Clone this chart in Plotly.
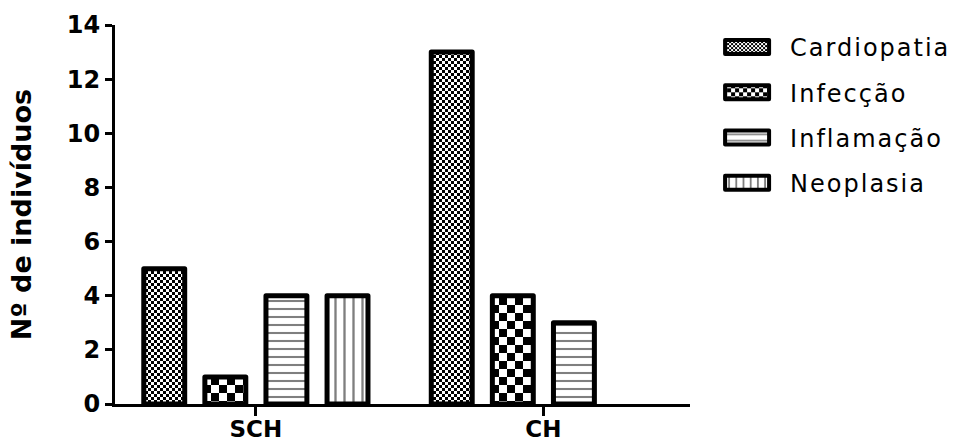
import plotly.graph_objects as go

categories = ["SCH", "CH"]
series_names = ["Cardiopatia", "Infecção", "Inflamação", "Neoplasia"]
cardiopatia = [5, 13]
infeccao = [1, 4]
inflamacao = [4, 3]
neoplasia = [4, None]
y_ticks = [0, 2, 4, 6, 8, 10, 12, 14]
y_title = "Nº de indivíduos"

values = [cardiopatia, infeccao, inflamacao, neoplasia]
patterns = [
    dict(shape=".", size=6, solidity=0.5),
    dict(shape=".", size=16, solidity=0.5),
    dict(shape="-", size=8, solidity=0.26),
    dict(shape="|", size=9, solidity=0.26),
]

FONT = "DejaVu Sans"
fig = go.Figure()
for i, (name, vals, pat) in enumerate(zip(series_names, values, patterns)):
    fig.add_trace(go.Bar(
        name=name, x=categories, y=vals, legendgroup="g%d" % i,
        marker=dict(color="white", line=dict(color="black", width=5),
                    pattern=dict(fgcolor="black", bgcolor="white", fillmode="overlay", **pat)),
    ))

fig.update_layout(
    width=955, height=444,
    margin=dict(l=115, r=265, t=25, b=40, autoexpand=False),
    paper_bgcolor="white", plot_bgcolor="white",
    barmode="group", bargap=0.15, bargroupgap=0.33,
    showlegend=True,
    legend=dict(x=1.0245, y=1.0, xanchor="left", yanchor="top",
                font=dict(family=FONT, size=24, color="black"),
                itemwidth=76, tracegroupgap=11, traceorder="grouped"),
    font=dict(family=FONT, color="black"),
)

fig.update_yaxes(range=[0, 14], tickvals=y_ticks, showgrid=False, zeroline=False, automargin=False,
                 showline=True, linecolor="black", linewidth=3,
                 ticks="outside", ticklen=7, tickwidth=3, tickcolor="black",
                 tickfont=dict(family=FONT, size=24, weight="bold", color="black"),
                 title=dict(text=y_title, font=dict(family=FONT, size=27, weight="bold", color="black"), standoff=28))
fig.update_xaxes(range=[-0.49, 1.51], showgrid=False, zeroline=False, automargin=False,
                 showline=True, linecolor="black", linewidth=3,
                 ticks="outside", ticklen=9, tickwidth=3, tickcolor="black", ticklabelstandoff=-7,
                 tickfont=dict(family=FONT, size=23, weight="bold", color="black"))

post = """
document.body.style.margin = '0';
document.body.style.padding = '0';
var gd = document.getElementById('{plot_id}');
var NS = 'http://www.w3.org/2000/svg';
var BAR_CHECK = [3, 8, 0, 0];
var LEG_CHECK = [2, 4, 0, 0];
var LEG_W = 44, LEG_H = 14;
function makeChecker(id, a) {
  var defs = gd.querySelector('defs');
  var pat = document.createElementNS(NS, 'pattern');
  pat.setAttribute('id', id);
  pat.setAttribute('patternUnits', 'userSpaceOnUse');
  pat.setAttribute('width', 2 * a); pat.setAttribute('height', 2 * a);
  function mk(x, y, w, h, c) {
    var r = document.createElementNS(NS, 'rect');
    r.setAttribute('x', x); r.setAttribute('y', y);
    r.setAttribute('width', w); r.setAttribute('height', h);
    r.setAttribute('fill', c); pat.appendChild(r);
  }
  mk(0, 0, 2 * a, 2 * a, '#ffffff'); mk(0, 0, a, a, '#000000'); mk(a, a, a, a, '#000000');
  defs.appendChild(pat);
  return 'url(#' + id + ')';
}
var traces = gd.querySelectorAll('.barlayer .trace');
traces.forEach(function(t, i) {
  var f = BAR_CHECK[i] ? makeChecker('chkbar' + i, BAR_CHECK[i]) : null;
  t.querySelectorAll('.point path').forEach(function(p) {
    if (f) p.style.fill = f;
    p.style.strokeLinejoin = 'round';
  });
});
gd.querySelectorAll('.legend .scrollbox').forEach(function(s) { s.removeAttribute('clip-path'); });
gd.querySelectorAll('.legend').forEach(function(s) { s.style.overflow = 'visible'; });
var leg = gd.querySelectorAll('.legend .traces');
leg.forEach(function(t, i) {
  var f = LEG_CHECK[i] ? makeChecker('chkleg' + i, LEG_CHECK[i]) : null;
  t.querySelectorAll('.legendpoints path').forEach(function(p) {
    if (f) p.style.fill = f;
    p.setAttribute('d', 'M' + LEG_W/2 + ',' + LEG_H/2 + 'H' + (-LEG_W/2) + 'V' + (-LEG_H/2) + 'H' + LEG_W/2 + 'Z');
    p.style.strokeWidth = '4px';
    p.style.strokeLinejoin = 'round';
  });
  t.querySelectorAll('.legendtext').forEach(function(el) { el.style.letterSpacing = '2px'; });
});
"""

fig.write_html("out.html", post_script=post, config={"displayModeBar": False})
